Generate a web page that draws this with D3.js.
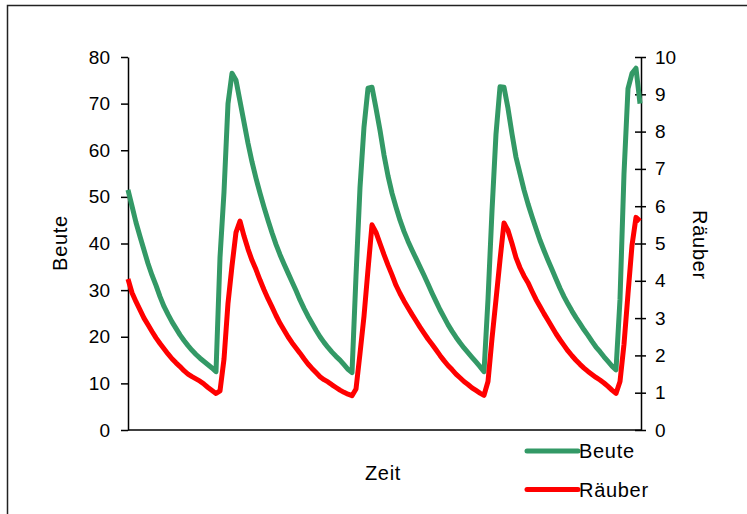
<!DOCTYPE html>
<html>
<head>
<meta charset="utf-8">
<script src="https://cdn.jsdelivr.net/npm/d3@7"></script>
<style>
    body { margin: 0; background: #fff; }
    text { font-family: Arial, "Liberation Sans", sans-serif; font-size: 20px; fill: #000; }
    .title, .legend text { letter-spacing: 0.7px; }
</style>
</head>
<body>
<svg id="chart"></svg>
<script>
// Beute (prey, left axis) and Räuber (predator, right axis), one value per time step
const beute = [
    51.5, 48, 44.5, 41.5, 38.6, 35.7, 33.2, 31, 28.6, 26.5,
    24.8, 23.2, 21.8, 20.4, 19.2, 18.1, 17.1, 16.2, 15.4, 14.7,
    14.0, 13.3, 12.5, 37, 51, 70, 76.5, 75, 70.5, 66,
    61.5, 57.5, 54, 50.8, 47.8, 45, 42.3, 39.8, 37.6, 35.6,
    33.7, 31.8, 29.9, 27.9, 26.1, 24.4, 22.9, 21.4, 20, 18.8,
    17.7, 16.7, 15.8, 15, 14, 13, 12.3, 33, 52, 65,
    73.3, 73.5, 69, 64.3, 59, 54.5, 50.8, 47.8, 45.0, 42.6,
    40.5, 38.6, 36.8, 35, 33.2, 31.3, 29.4, 27.6, 25.8, 24.2,
    22.6, 21.2, 19.9, 18.7, 17.6, 16.6, 15.6, 14.6, 13.6, 12.5,
    28, 47, 63.5, 73.6, 73.5, 69, 63.5, 58.5, 55, 51.5,
    48.5, 45.8, 43.2, 40.7, 38.5, 36.4, 34.4, 32.4, 30.4, 28.6,
    27, 25.5, 24.1, 22.8, 21.5, 20.3, 19, 17.8, 16.8, 15.7,
    14.7, 13.7, 12.9, 28, 55, 73.2, 76.5, 77.6, 70
];
const raeuber = [
    4.05, 3.68, 3.44, 3.22, 3.0, 2.82, 2.64, 2.47, 2.32, 2.18,
    2.04, 1.91, 1.8, 1.7, 1.59, 1.5, 1.43, 1.37, 1.31, 1.23,
    1.14, 1.06, 0.98, 1.05, 1.9, 3.4, 4.4, 5.3, 5.6, 5.2,
    4.85, 4.55, 4.3, 4.02, 3.76, 3.52, 3.3, 3.07, 2.86, 2.68,
    2.5, 2.34, 2.2, 2.06, 1.91, 1.77, 1.65, 1.54, 1.43, 1.35,
    1.29, 1.21, 1.14, 1.07, 1.01, 0.96, 0.92, 1.1, 2.05, 3.05,
    4.3, 5.5, 5.3, 5.0, 4.7, 4.42, 4.16, 3.88, 3.66, 3.46,
    3.28, 3.1, 2.93, 2.76, 2.6, 2.44, 2.3, 2.15, 2.0, 1.86,
    1.73, 1.62, 1.5, 1.4, 1.3, 1.22, 1.13, 1.06, 0.99, 0.93,
    1.3, 2.45, 3.5, 4.56, 5.55, 5.35, 5.0, 4.62, 4.35, 4.13,
    3.95, 3.72, 3.5, 3.31, 3.12, 2.94, 2.76, 2.58, 2.42, 2.27,
    2.12, 1.99, 1.87, 1.76, 1.66, 1.57, 1.49, 1.41, 1.34, 1.26,
    1.17, 1.07, 0.98, 1.3, 2.3, 3.65, 4.95, 5.7, 5.6
];
const beuteTicks = [0, 10, 20, 30, 40, 50, 60, 70, 80];
const raeuberTicks = [0, 1, 2, 3, 4, 5, 6, 7, 8, 9, 10];
const seriesNames = ['Beute', 'Räuber'];
const seriesColors = ['#339966', '#ff0000'];

const WIDTH = 747;
const HEIGHT = 514;
const plot = { left: 128, right: 641, top: 57, bottom: 430 };

let svg = d3.select('#chart')
    .attr('width', WIDTH)
    .attr('height', HEIGHT);

// outer frame (only left and top edges are visible in the crop)
svg.append('path')
    .attr('d', `M7.5,${HEIGHT} V5.5 H${WIDTH}`)
    .attr('fill', 'none')
    .attr('stroke', '#222')
    .attr('stroke-width', 1.5);

let xScale = d3.scaleLinear()
    .domain([0, beute.length - 1])
    .range([plot.left, plot.right - 1]);
let yLeft = d3.scaleLinear()
    .domain([0, 80])
    .range([plot.bottom, plot.top]);
let yRight = d3.scaleLinear()
    .domain([0, 10])
    .range([plot.bottom, plot.top]);

// x axis is just a line, no ticks
svg.append('line')
    .attr('x1', plot.left).attr('x2', plot.right)
    .attr('y1', plot.bottom).attr('y2', plot.bottom)
    .attr('stroke', '#000')
    .attr('stroke-width', 1.5);

let leftAxis = svg.append('g')
    .attr('transform', `translate(${plot.left}, 0)`)
    .call(d3.axisLeft(yLeft).tickValues(beuteTicks).tickSizeInner(7).tickSizeOuter(0).tickPadding(11));

let rightAxis = svg.append('g')
    .attr('transform', `translate(${plot.right}, 0)`)
    .call(d3.axisRight(yRight).tickValues(raeuberTicks).tickSizeInner(5).tickSizeOuter(0).tickPadding(9));

// right ticks cross the axis line
rightAxis.selectAll('.tick line').attr('x1', -6);

svg.selectAll('.domain, .tick line')
    .attr('stroke', '#000')
    .attr('stroke-width', 1.5);
svg.selectAll('.tick text')
    .attr('font-size', null)
    .attr('font-family', null)
    .style('font-size', '19px');

// axis titles
svg.append('text')
    .attr('class', 'title')
    .attr('transform', 'translate(67, 243) rotate(-90)')
    .attr('text-anchor', 'middle')
    .text('Beute');
svg.append('text')
    .attr('class', 'title')
    .attr('transform', 'translate(693, 245) rotate(90)')
    .attr('text-anchor', 'middle')
    .text('Räuber');
svg.append('text')
    .attr('class', 'title')
    .attr('x', 383)
    .attr('y', 480)
    .attr('text-anchor', 'middle')
    .text('Zeit');

// the two series
const lineLeft = d3.line()
    .x((d, i) => xScale(i))
    .y(d => yLeft(d));
const lineRight = d3.line()
    .x((d, i) => xScale(i))
    .y(d => yRight(d));

svg.append('path')
    .attr('d', lineLeft(beute))
    .attr('fill', 'none')
    .attr('stroke', seriesColors[0])
    .attr('stroke-width', 5)
    .attr('stroke-linejoin', 'round');
svg.append('path')
    .attr('d', lineRight(raeuber))
    .attr('fill', 'none')
    .attr('stroke', seriesColors[1])
    .attr('stroke-width', 5)
    .attr('stroke-linejoin', 'round');

// legend
let legend = svg.selectAll('.legend')
    .data(seriesNames)
    .enter().append('g')
    .attr('class', 'legend')
    .attr('transform', (d, i) => `translate(527, ${451 + i * 38.5})`);
legend.append('line')
    .attr('x1', 0).attr('x2', 51)
    .attr('stroke', (d, i) => seriesColors[i])
    .attr('stroke-width', 5)
    .attr('stroke-linecap', 'round');
legend.append('text')
    .attr('x', 52)
    .attr('dy', '0.35em')
    .text(d => d);
</script>
</body>
</html>
